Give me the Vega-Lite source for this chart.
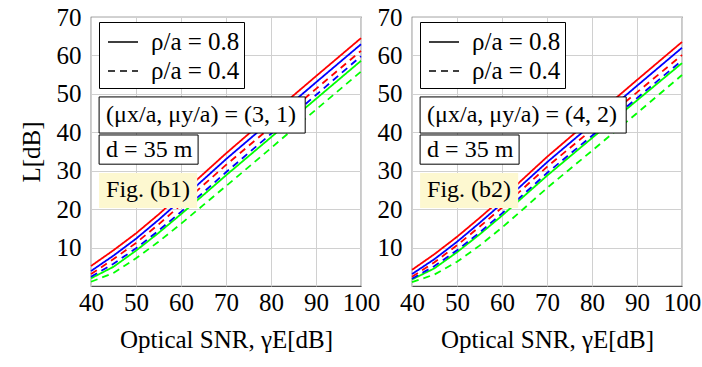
{
  "$schema": "https://vega.github.io/schema/vega-lite/v6.json",
  "autosize": {"type": "none"},
  "padding": {"left": 91, "top": 17, "right": 611, "bottom": 350},
  "background": "white",
  "config": {
    "font": "Liberation Serif",
    "view": {"stroke": "#4d4d4d", "strokeWidth": 1.2},
    "axis": {
      "labelFont": "Liberation Serif", "labelFontSize": 25, "labelColor": "#000000",
      "titleFont": "Liberation Serif", "titleFontSize": 25, "titleFontWeight": "normal", "titleColor": "#000000",
      "grid": true, "gridColor": "#d0d0d0", "gridWidth": 1, "domain": false, "ticks": false, "labelFlush": false
    },
    "axisX": {"labelPadding": 4, "titlePadding": 12},
    "axisY": {"labelPadding": 10, "titlePadding": 12},
    "legend": {"labelFont": "Liberation Serif", "labelFontSize": 25, "labelColor": "black"},
    "style": {"guide-label": {"font": "Liberation Serif"}},
    "text": {"font": "Liberation Serif"}
  },
  "datasets": {
    "curves": [
      {"p":"b1","c":"red","r":"0.8","x":40,"y":5.2},{"p":"b1","c":"red","r":"0.8","x":45,"y":9.3},{"p":"b1","c":"red","r":"0.8","x":50,"y":13.7},{"p":"b1","c":"red","r":"0.8","x":55,"y":18.6},{"p":"b1","c":"red","r":"0.8","x":60,"y":23.9},{"p":"b1","c":"red","r":"0.8","x":65,"y":29.2},{"p":"b1","c":"red","r":"0.8","x":70,"y":34.5},{"p":"b1","c":"red","r":"0.8","x":80,"y":44.6},{"p":"b1","c":"red","r":"0.8","x":90,"y":54.6},{"p":"b1","c":"red","r":"0.8","x":100,"y":64.5},
      {"p":"b1","c":"blue","r":"0.8","x":40,"y":3.9},{"p":"b1","c":"blue","r":"0.8","x":45,"y":7.9},{"p":"b1","c":"blue","r":"0.8","x":50,"y":12.3},{"p":"b1","c":"blue","r":"0.8","x":55,"y":17.2},{"p":"b1","c":"blue","r":"0.8","x":60,"y":22.4},{"p":"b1","c":"blue","r":"0.8","x":65,"y":27.7},{"p":"b1","c":"blue","r":"0.8","x":70,"y":33.0},{"p":"b1","c":"blue","r":"0.8","x":80,"y":43.0},{"p":"b1","c":"blue","r":"0.8","x":90,"y":53.0},{"p":"b1","c":"blue","r":"0.8","x":100,"y":62.9},
      {"p":"b1","c":"green","r":"0.8","x":40,"y":2.0},{"p":"b1","c":"green","r":"0.8","x":45,"y":5.0},{"p":"b1","c":"green","r":"0.8","x":50,"y":9.2},{"p":"b1","c":"green","r":"0.8","x":55,"y":13.8},{"p":"b1","c":"green","r":"0.8","x":60,"y":18.7},{"p":"b1","c":"green","r":"0.8","x":65,"y":23.7},{"p":"b1","c":"green","r":"0.8","x":70,"y":28.8},{"p":"b1","c":"green","r":"0.8","x":80,"y":38.7},{"p":"b1","c":"green","r":"0.8","x":90,"y":48.7},{"p":"b1","c":"green","r":"0.8","x":100,"y":58.6},
      {"p":"b1","c":"red","r":"0.4","x":40,"y":3.1},{"p":"b1","c":"red","r":"0.4","x":45,"y":7.0},{"p":"b1","c":"red","r":"0.4","x":50,"y":11.2},{"p":"b1","c":"red","r":"0.4","x":55,"y":16.0},{"p":"b1","c":"red","r":"0.4","x":60,"y":21.1},{"p":"b1","c":"red","r":"0.4","x":65,"y":26.3},{"p":"b1","c":"red","r":"0.4","x":70,"y":31.5},{"p":"b1","c":"red","r":"0.4","x":80,"y":41.4},{"p":"b1","c":"red","r":"0.4","x":90,"y":51.3},{"p":"b1","c":"red","r":"0.4","x":100,"y":61.2},
      {"p":"b1","c":"blue","r":"0.4","x":40,"y":2.4},{"p":"b1","c":"blue","r":"0.4","x":45,"y":5.8},{"p":"b1","c":"blue","r":"0.4","x":50,"y":9.8},{"p":"b1","c":"blue","r":"0.4","x":55,"y":14.4},{"p":"b1","c":"blue","r":"0.4","x":60,"y":19.3},{"p":"b1","c":"blue","r":"0.4","x":65,"y":24.4},{"p":"b1","c":"blue","r":"0.4","x":70,"y":29.6},{"p":"b1","c":"blue","r":"0.4","x":80,"y":39.6},{"p":"b1","c":"blue","r":"0.4","x":90,"y":49.7},{"p":"b1","c":"blue","r":"0.4","x":100,"y":59.8},
      {"p":"b1","c":"green","r":"0.4","x":40,"y":1.1},{"p":"b1","c":"green","r":"0.4","x":45,"y":3.4},{"p":"b1","c":"green","r":"0.4","x":50,"y":7.2},{"p":"b1","c":"green","r":"0.4","x":55,"y":11.5},{"p":"b1","c":"green","r":"0.4","x":60,"y":16.2},{"p":"b1","c":"green","r":"0.4","x":65,"y":21.1},{"p":"b1","c":"green","r":"0.4","x":70,"y":26.0},{"p":"b1","c":"green","r":"0.4","x":80,"y":35.9},{"p":"b1","c":"green","r":"0.4","x":90,"y":45.9},{"p":"b1","c":"green","r":"0.4","x":100,"y":55.8},
      {"p":"b2","c":"red","r":"0.8","x":40,"y":4.2},{"p":"b2","c":"red","r":"0.8","x":45,"y":8.3},{"p":"b2","c":"red","r":"0.8","x":50,"y":12.8},{"p":"b2","c":"red","r":"0.8","x":55,"y":17.7},{"p":"b2","c":"red","r":"0.8","x":60,"y":22.8},{"p":"b2","c":"red","r":"0.8","x":65,"y":28.2},{"p":"b2","c":"red","r":"0.8","x":70,"y":33.6},{"p":"b2","c":"red","r":"0.8","x":80,"y":43.6},{"p":"b2","c":"red","r":"0.8","x":90,"y":53.6},{"p":"b2","c":"red","r":"0.8","x":100,"y":63.5},
      {"p":"b2","c":"blue","r":"0.8","x":40,"y":3.1},{"p":"b2","c":"blue","r":"0.8","x":45,"y":7.0},{"p":"b2","c":"blue","r":"0.8","x":50,"y":11.5},{"p":"b2","c":"blue","r":"0.8","x":55,"y":16.4},{"p":"b2","c":"blue","r":"0.8","x":60,"y":21.5},{"p":"b2","c":"blue","r":"0.8","x":65,"y":26.9},{"p":"b2","c":"blue","r":"0.8","x":70,"y":32.2},{"p":"b2","c":"blue","r":"0.8","x":80,"y":42.1},{"p":"b2","c":"blue","r":"0.8","x":90,"y":52.1},{"p":"b2","c":"blue","r":"0.8","x":100,"y":62.0},
      {"p":"b2","c":"green","r":"0.8","x":40,"y":1.7},{"p":"b2","c":"green","r":"0.8","x":45,"y":4.6},{"p":"b2","c":"green","r":"0.8","x":50,"y":8.8},{"p":"b2","c":"green","r":"0.8","x":55,"y":13.4},{"p":"b2","c":"green","r":"0.8","x":60,"y":18.3},{"p":"b2","c":"green","r":"0.8","x":65,"y":23.5},{"p":"b2","c":"green","r":"0.8","x":70,"y":28.7},{"p":"b2","c":"green","r":"0.8","x":80,"y":38.5},{"p":"b2","c":"green","r":"0.8","x":90,"y":48.3},{"p":"b2","c":"green","r":"0.8","x":100,"y":58.0},
      {"p":"b2","c":"red","r":"0.4","x":40,"y":2.4},{"p":"b2","c":"red","r":"0.4","x":45,"y":6.2},{"p":"b2","c":"red","r":"0.4","x":50,"y":10.6},{"p":"b2","c":"red","r":"0.4","x":55,"y":15.4},{"p":"b2","c":"red","r":"0.4","x":60,"y":20.4},{"p":"b2","c":"red","r":"0.4","x":65,"y":25.7},{"p":"b2","c":"red","r":"0.4","x":70,"y":31.0},{"p":"b2","c":"red","r":"0.4","x":80,"y":40.7},{"p":"b2","c":"red","r":"0.4","x":90,"y":50.4},{"p":"b2","c":"red","r":"0.4","x":100,"y":60.1},
      {"p":"b2","c":"blue","r":"0.4","x":40,"y":1.9},{"p":"b2","c":"blue","r":"0.4","x":45,"y":5.2},{"p":"b2","c":"blue","r":"0.4","x":50,"y":9.3},{"p":"b2","c":"blue","r":"0.4","x":55,"y":13.9},{"p":"b2","c":"blue","r":"0.4","x":60,"y":18.9},{"p":"b2","c":"blue","r":"0.4","x":65,"y":24.1},{"p":"b2","c":"blue","r":"0.4","x":70,"y":29.4},{"p":"b2","c":"blue","r":"0.4","x":80,"y":39.1},{"p":"b2","c":"blue","r":"0.4","x":90,"y":48.9},{"p":"b2","c":"blue","r":"0.4","x":100,"y":58.7},
      {"p":"b2","c":"green","r":"0.4","x":40,"y":1.0},{"p":"b2","c":"green","r":"0.4","x":45,"y":3.0},{"p":"b2","c":"green","r":"0.4","x":50,"y":6.3},{"p":"b2","c":"green","r":"0.4","x":55,"y":10.5},{"p":"b2","c":"green","r":"0.4","x":60,"y":15.2},{"p":"b2","c":"green","r":"0.4","x":65,"y":20.3},{"p":"b2","c":"green","r":"0.4","x":70,"y":25.5},{"p":"b2","c":"green","r":"0.4","x":80,"y":35.2},{"p":"b2","c":"green","r":"0.4","x":90,"y":45.0},{"p":"b2","c":"green","r":"0.4","x":100,"y":54.9}
    ],
    "notes": [
      {"p":"b1","kind":"box","label":"(μx/a, μy/a) = (3, 1)","x":41.8,"x2":87.6,"y":39.8,"y2":49.2,"ty":44.5},
      {"p":"b1","kind":"box","label":"d = 35 m","x":41.8,"x2":63.8,"y":31.7,"y2":39.3,"ty":35.5},
      {"p":"b1","kind":"fig","label":"Fig. (b1)","x":41.8,"x2":63.6,"y":20.3,"y2":29.4,"ty":24.9},
      {"p":"b2","kind":"box","label":"(μx/a, μy/a) = (4, 2)","x":41.8,"x2":87.6,"y":39.8,"y2":49.2,"ty":44.5},
      {"p":"b2","kind":"box","label":"d = 35 m","x":41.8,"x2":63.8,"y":31.7,"y2":39.3,"ty":35.5},
      {"p":"b2","kind":"fig","label":"Fig. (b2)","x":41.8,"x2":63.6,"y":20.3,"y2":29.4,"ty":24.9}
    ]
  },
  "spacing": 51,
  "bounds": "flush",
  "resolve": {"scale": {"strokeDash": "independent"}, "legend": {"strokeDash": "independent"}},
  "hconcat": [
    {
      "width": 270, "height": 269,
      "layer": [
        {
          "data": {"name": "curves"},
          "transform": [{"filter": "datum.p === 'b1'"}],
          "mark": {"type": "line", "strokeWidth": 1.8},
          "encoding": {
            "x": {"field": "x", "type": "quantitative", "scale": {"domain": [40, 100], "nice": false}, "axis": {"values": [40, 50, 60, 70, 80, 90, 100], "title": "Optical SNR, γE[dB]"}},
            "y": {"field": "y", "type": "quantitative", "scale": {"domain": [0, 70], "nice": false}, "axis": {"values": [10, 20, 30, 40, 50, 60, 70], "title": "L[dB]"}},
            "color": {"field": "c", "type": "nominal", "scale": {"domain": ["red", "blue", "green"], "range": ["#ff0000", "#0000ff", "#00ff00"]}, "legend": null},
            "strokeDash": {"field": "r", "type": "nominal", "scale": {"domain": ["0.8", "0.4"], "range": [[1, 0], [7, 5]]},
              "legend": {"title": null, "orient": "none", "legendX": 8, "legendY": 5, "labelExpr": "'ρ/a = ' + datum.label",
                "fillColor": "white", "strokeColor": "black", "padding": 4, "labelFont": "Liberation Serif", "labelFontSize": 25, "labelColor": "black",
                "symbolType": "stroke", "symbolSize": 900, "symbolStrokeWidth": 1.5, "symbolStrokeColor": "black", "symbolOffset": 4, "labelOffset": 12, "rowPadding": -3,
                "encode": {"labels": {"update": {"font": {"value": "Liberation Serif"}, "fontSize": {"value": 25}, "fill": {"value": "black"}}}}}}
          }
        },
        {
          "data": {"name": "notes"},
          "transform": [{"filter": "datum.p === 'b1' && datum.kind === 'box'"}],
          "mark": {"type": "rect", "fill": "white", "stroke": "black", "strokeWidth": 1},
          "encoding": {
            "x": {"field": "x", "type": "quantitative", "scale": {"domain": [40, 100], "nice": false}, "axis": {"values": [40, 50, 60, 70, 80, 90, 100], "title": "Optical SNR, γE[dB]"}},
            "x2": {"field": "x2"},
            "y": {"field": "y", "type": "quantitative", "scale": {"domain": [0, 70], "nice": false}, "axis": {"values": [10, 20, 30, 40, 50, 60, 70], "title": "L[dB]"}},
            "y2": {"field": "y2"}
          }
        },
        {
          "data": {"name": "notes"},
          "transform": [{"filter": "datum.p === 'b1' && datum.kind === 'fig'"}],
          "mark": {"type": "rect", "fill": "#fdf8d0", "strokeWidth": 0},
          "encoding": {
            "x": {"field": "x", "type": "quantitative", "scale": {"domain": [40, 100], "nice": false}, "axis": {"values": [40, 50, 60, 70, 80, 90, 100], "title": "Optical SNR, γE[dB]"}},
            "x2": {"field": "x2"},
            "y": {"field": "y", "type": "quantitative", "scale": {"domain": [0, 70], "nice": false}, "axis": {"values": [10, 20, 30, 40, 50, 60, 70], "title": "L[dB]"}},
            "y2": {"field": "y2"}
          }
        },
        {
          "data": {"name": "notes"},
          "transform": [{"filter": "datum.p === 'b1'"}],
          "mark": {"type": "text", "align": "left", "baseline": "middle", "dx": 7, "font": "Liberation Serif", "fontSize": 24, "color": "black"},
          "encoding": {
            "x": {"field": "x", "type": "quantitative", "scale": {"domain": [40, 100], "nice": false}, "axis": {"values": [40, 50, 60, 70, 80, 90, 100], "title": "Optical SNR, γE[dB]"}},
            "y": {"field": "ty", "type": "quantitative", "scale": {"domain": [0, 70], "nice": false}, "axis": {"values": [10, 20, 30, 40, 50, 60, 70], "title": "L[dB]"}},
            "text": {"field": "label"}
          }
        }
      ]
    },
    {
      "width": 270, "height": 269,
      "layer": [
        {
          "data": {"name": "curves"},
          "transform": [{"filter": "datum.p === 'b2'"}],
          "mark": {"type": "line", "strokeWidth": 1.8},
          "encoding": {
            "x": {"field": "x", "type": "quantitative", "scale": {"domain": [40, 100], "nice": false}, "axis": {"values": [40, 50, 60, 70, 80, 90, 100], "title": "Optical SNR, γE[dB]"}},
            "y": {"field": "y", "type": "quantitative", "scale": {"domain": [0, 70], "nice": false}, "axis": {"values": [10, 20, 30, 40, 50, 60, 70], "title": null}},
            "color": {"field": "c", "type": "nominal", "scale": {"domain": ["red", "blue", "green"], "range": ["#ff0000", "#0000ff", "#00ff00"]}, "legend": null},
            "strokeDash": {"field": "r", "type": "nominal", "scale": {"domain": ["0.8", "0.4"], "range": [[1, 0], [7, 5]]},
              "legend": {"title": null, "orient": "none", "legendX": 8, "legendY": 5, "labelExpr": "'ρ/a = ' + datum.label",
                "fillColor": "white", "strokeColor": "black", "padding": 4, "labelFont": "Liberation Serif", "labelFontSize": 25, "labelColor": "black",
                "symbolType": "stroke", "symbolSize": 900, "symbolStrokeWidth": 1.5, "symbolStrokeColor": "black", "symbolOffset": 4, "labelOffset": 12, "rowPadding": -3,
                "encode": {"labels": {"update": {"font": {"value": "Liberation Serif"}, "fontSize": {"value": 25}, "fill": {"value": "black"}}}}}}
          }
        },
        {
          "data": {"name": "notes"},
          "transform": [{"filter": "datum.p === 'b2' && datum.kind === 'box'"}],
          "mark": {"type": "rect", "fill": "white", "stroke": "black", "strokeWidth": 1},
          "encoding": {
            "x": {"field": "x", "type": "quantitative", "scale": {"domain": [40, 100], "nice": false}, "axis": {"values": [40, 50, 60, 70, 80, 90, 100], "title": "Optical SNR, γE[dB]"}},
            "x2": {"field": "x2"},
            "y": {"field": "y", "type": "quantitative", "scale": {"domain": [0, 70], "nice": false}, "axis": {"values": [10, 20, 30, 40, 50, 60, 70], "title": null}},
            "y2": {"field": "y2"}
          }
        },
        {
          "data": {"name": "notes"},
          "transform": [{"filter": "datum.p === 'b2' && datum.kind === 'fig'"}],
          "mark": {"type": "rect", "fill": "#fdf8d0", "strokeWidth": 0},
          "encoding": {
            "x": {"field": "x", "type": "quantitative", "scale": {"domain": [40, 100], "nice": false}, "axis": {"values": [40, 50, 60, 70, 80, 90, 100], "title": "Optical SNR, γE[dB]"}},
            "x2": {"field": "x2"},
            "y": {"field": "y", "type": "quantitative", "scale": {"domain": [0, 70], "nice": false}, "axis": {"values": [10, 20, 30, 40, 50, 60, 70], "title": null}},
            "y2": {"field": "y2"}
          }
        },
        {
          "data": {"name": "notes"},
          "transform": [{"filter": "datum.p === 'b2'"}],
          "mark": {"type": "text", "align": "left", "baseline": "middle", "dx": 7, "font": "Liberation Serif", "fontSize": 24, "color": "black"},
          "encoding": {
            "x": {"field": "x", "type": "quantitative", "scale": {"domain": [40, 100], "nice": false}, "axis": {"values": [40, 50, 60, 70, 80, 90, 100], "title": "Optical SNR, γE[dB]"}},
            "y": {"field": "ty", "type": "quantitative", "scale": {"domain": [0, 70], "nice": false}, "axis": {"values": [10, 20, 30, 40, 50, 60, 70], "title": null}},
            "text": {"field": "label"}
          }
        }
      ]
    }
  ]
}
